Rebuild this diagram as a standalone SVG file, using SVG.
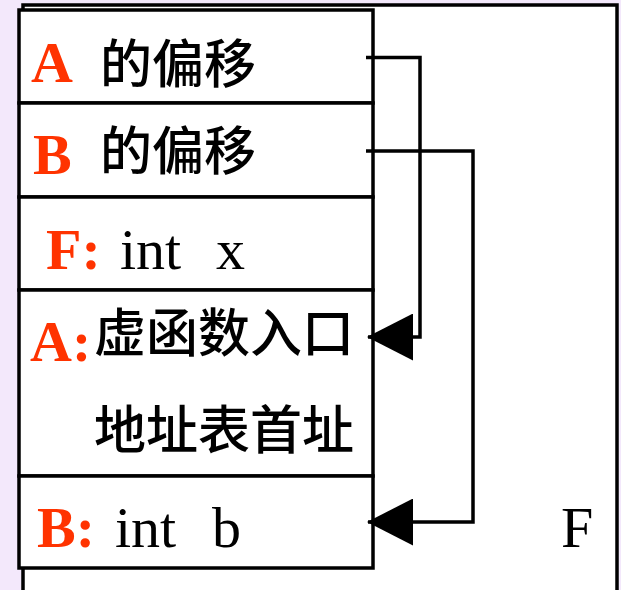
<svg xmlns="http://www.w3.org/2000/svg" width="621" height="590" viewBox="0 0 621 590">
  <style>
    .frame { fill: #ffffff; stroke: #000000; stroke-width: 3.5; }
    .cell { fill: #ffffff; stroke: #000000; stroke-width: 3.5; }
    .link { fill: none; stroke: #000000; stroke-width: 3.5; }
    .tag { font-family: "Liberation Serif", "Times New Roman", serif; font-weight: bold; font-size: 58px; fill: #ff3300; }
    .code { font-family: "Liberation Serif", "Times New Roman", serif; font-size: 58px; fill: #000000; }
    .cjk { font-family: "Noto Sans CJK SC", sans-serif; font-size: 52px; font-weight: 500; fill: #000000; }
  </style>
  <defs>
    <marker id="arrow" markerUnits="userSpaceOnUse" markerWidth="46" markerHeight="47" viewBox="0 0 46 47" refX="45" refY="23.5" orient="auto">
      <polygon points="0,0 46,23.5 0,47" fill="#000000"/>
    </marker>
  </defs>

  <!-- page background -->
  <rect x="0" y="0" width="621" height="590" fill="#f3e8fb"/>

  <!-- object F frame -->
  <g id="object-F">
    <rect class="frame" x="23" y="5" width="594" height="600"/>
    <text class="code" x="561" y="547">F</text>
  </g>

  <!-- memory layout cells -->
  <g id="cell-A-offset">
    <rect class="cell" x="19" y="10" width="354" height="93"/>
    <text class="tag" x="31" y="82">A</text>
    <text class="cjk" x="100" y="83">的偏移</text>
  </g>

  <g id="cell-B-offset">
    <rect class="cell" x="19" y="103" width="354" height="94"/>
    <text class="tag" x="33" y="174">B</text>
    <text class="cjk" x="100" y="170">的偏移</text>
  </g>

  <g id="cell-F-x">
    <rect class="cell" x="19" y="197" width="354" height="93"/>
    <text class="tag" x="46" y="269">F:</text>
    <text class="code" y="269"><tspan x="120">int</tspan><tspan x="216">x</tspan></text>
  </g>

  <g id="cell-A-vptr">
    <rect class="cell" x="19" y="290" width="354" height="186"/>
    <text class="tag" x="30" y="361">A:</text>
    <text class="cjk" x="94" y="352">虚函数入口</text>
    <text class="cjk" x="94" y="449">地址表首址</text>
  </g>

  <g id="cell-B-b">
    <rect class="cell" x="19" y="476" width="354" height="92"/>
    <text class="tag" x="37" y="547">B:</text>
    <text class="code" y="547"><tspan x="115">int</tspan><tspan x="212">b</tspan></text>
  </g>

  <!-- offset pointers -->
  <g id="connectors">
    <path class="link" d="M366 57.5 H420 V337 H368" marker-end="url(#arrow)"/>
    <path class="link" d="M366 151 H473 V522 H368" marker-end="url(#arrow)"/>
  </g>
</svg>
